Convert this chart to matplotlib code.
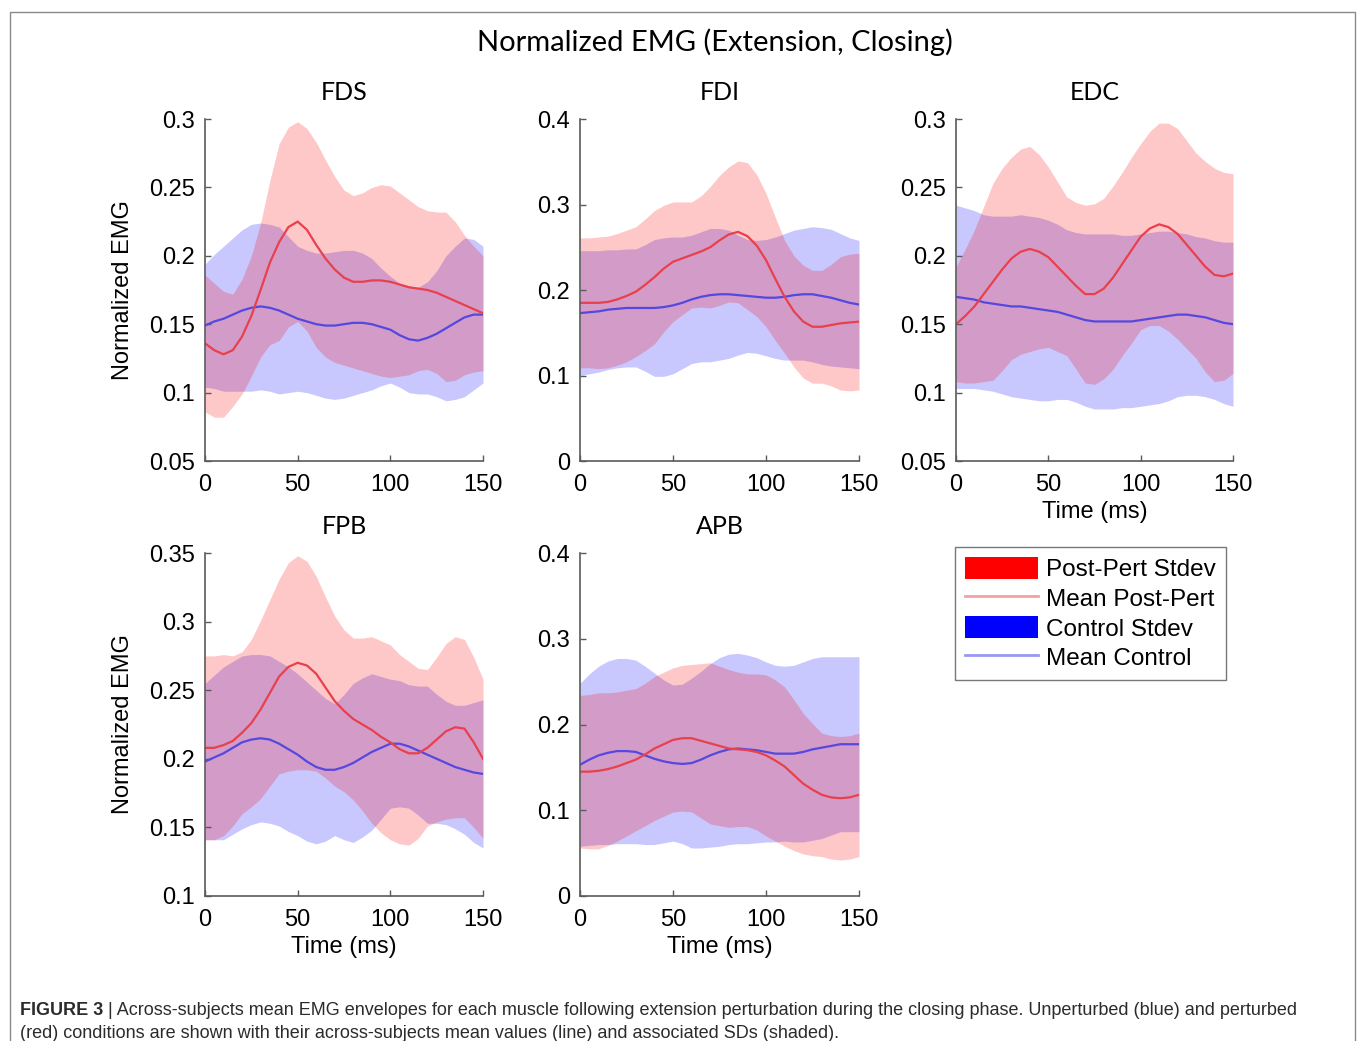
import numpy as np
import matplotlib
matplotlib.use("Agg")
import matplotlib.pyplot as plt
from matplotlib.patches import Patch, Rectangle
from matplotlib.lines import Line2D

# ---------------- data ----------------
time_ms = [0, 5, 10, 15, 20, 25, 30, 35, 40, 45, 50, 55, 60, 65, 70, 75,
           80, 85, 90, 95, 100, 105, 110, 115, 120, 125, 130, 135, 140, 145, 150]

muscles = ["FDS", "FDI", "EDC", "FPB", "APB"]

fds_pert_mean = [.136, .131, .128, .131, .141, .156, .175, .195, .210, .221, .225, .219, .208, .198, .190, .184,
                 .181, .181, .182, .182, .181, .179, .177, .176, .175, .173, .170, .167, .164, .161, .158]
fds_pert_sd   = [.050, .049, .046, .041, .042, .044, .049, .060, .072, .073, .073, .074, .075, .072, .068, .064,
                 .063, .065, .068, .070, .070, .067, .064, .060, .058, .059, .062, .058, .051, .046, .042]
fds_ctrl_mean = [.149, .152, .154, .157, .160, .162, .163, .162, .160, .157, .154, .152, .150, .149, .149, .150,
                 .151, .151, .150, .148, .146, .142, .139, .138, .140, .143, .147, .151, .155, .157, .157]
fds_ctrl_sd   = [.045, .049, .053, .056, .059, .061, .061, .061, .061, .057, .053, .052, .052, .053, .054, .054,
                 .053, .051, .048, .043, .039, .038, .039, .039, .041, .046, .053, .056, .058, .055, .050]

fdi_pert_mean = [.185, .185, .185, .186, .189, .193, .198, .206, .215, .225, .233, .237, .241, .245, .250, .258,
                 .265, .268, .263, .252, .235, .213, .192, .175, .163, .157, .157, .159, .161, .162, .163]
fdi_pert_sd   = [.076, .076, .077, .077, .077, .077, .076, .077, .078, .074, .070, .066, .062, .065, .071, .076,
                 .079, .083, .086, .083, .078, .072, .066, .065, .066, .066, .066, .071, .078, .080, .080]
fdi_ctrl_mean = [.173, .174, .175, .177, .178, .179, .179, .179, .179, .180, .182, .185, .189, .192, .194, .195,
                 .195, .194, .193, .192, .191, .191, .192, .194, .195, .195, .193, .191, .188, .185, .183]
fdi_ctrl_sd   = [.073, .072, .071, .070, .069, .069, .069, .074, .080, .081, .080, .077, .075, .076, .078, .077,
                 .075, .070, .066, .066, .068, .071, .074, .076, .077, .079, .080, .080, .078, .076, .075]

edc_pert_mean = [.150, .156, .163, .172, .181, .190, .198, .203, .205, .203, .199, .192, .185, .178, .172, .172,
                 .176, .184, .194, .204, .214, .220, .223, .221, .216, .208, .200, .192, .186, .185, .187]
edc_pert_sd   = [.042, .049, .056, .064, .072, .074, .074, .075, .075, .071, .066, .062, .058, .061, .065, .066,
                 .066, .067, .067, .068, .068, .071, .074, .076, .077, .076, .075, .077, .078, .076, .073]
edc_ctrl_mean = [.170, .169, .168, .166, .165, .164, .163, .163, .162, .161, .160, .159, .157, .155, .153, .152,
                 .152, .152, .152, .152, .153, .154, .155, .156, .157, .157, .156, .155, .153, .151, .150]
edc_ctrl_sd   = [.067, .066, .065, .064, .064, .065, .066, .067, .067, .067, .066, .064, .062, .062, .063, .064,
                 .064, .064, .063, .063, .063, .063, .063, .062, .060, .059, .058, .058, .058, .059, .060]

fpb_pert_mean = [.208, .208, .210, .213, .219, .226, .236, .248, .260, .267, .270, .268, .262, .252, .242, .235,
                 .229, .225, .221, .216, .212, .207, .204, .204, .208, .214, .220, .223, .222, .212, .200]
fpb_pert_sd   = [.067, .067, .066, .062, .059, .061, .065, .068, .071, .076, .078, .076, .071, .066, .062, .059,
                 .059, .063, .068, .070, .071, .069, .067, .062, .057, .060, .064, .066, .065, .062, .058]
fpb_ctrl_mean = [.198, .201, .204, .208, .212, .214, .215, .214, .211, .207, .203, .198, .194, .192, .192, .194,
                 .197, .201, .205, .208, .211, .211, .209, .206, .203, .200, .197, .194, .192, .190, .189]
fpb_ctrl_sd   = [.057, .060, .063, .063, .063, .062, .061, .061, .060, .060, .059, .058, .056, .052, .048, .053,
                 .058, .058, .057, .052, .047, .046, .045, .047, .050, .047, .045, .045, .047, .051, .054]

apb_pert_mean = [.145, .145, .146, .148, .151, .155, .159, .165, .172, .177, .182, .184, .184, .181, .178, .175,
                 .172, .171, .170, .168, .164, .158, .151, .141, .131, .124, .118, .115, .114, .115, .118]
apb_pert_sd   = [.089, .090, .091, .089, .087, .085, .083, .083, .084, .084, .084, .085, .086, .090, .094, .093,
                 .092, .090, .089, .091, .094, .094, .093, .088, .082, .077, .072, .072, .072, .072, .072]
apb_ctrl_mean = [.153, .159, .164, .167, .169, .169, .168, .164, .160, .157, .155, .154, .155, .159, .164, .168,
                 .171, .172, .171, .170, .168, .166, .166, .166, .168, .171, .173, .175, .177, .177, .177]
apb_ctrl_sd   = [.095, .100, .104, .107, .108, .108, .107, .104, .100, .095, .091, .093, .099, .103, .107, .110,
                 .111, .111, .110, .108, .105, .103, .102, .103, .105, .106, .106, .104, .102, .102, .102]

ylims = {"FDS": (0.05, 0.3), "FDI": (0, 0.4), "EDC": (0.05, 0.3), "FPB": (0.1, 0.35), "APB": (0, 0.4)}
yticks = {
    "FDS": [0.05, 0.1, 0.15, 0.2, 0.25, 0.3],
    "FDI": [0, 0.1, 0.2, 0.3, 0.4],
    "EDC": [0.05, 0.1, 0.15, 0.2, 0.25, 0.3],
    "FPB": [0.1, 0.15, 0.2, 0.25, 0.3, 0.35],
    "APB": [0, 0.1, 0.2, 0.3, 0.4],
}
ytick_labels = {
    "FDS": ["0.05", "0.1", "0.15", "0.2", "0.25", "0.3"],
    "FDI": ["0", "0.1", "0.2", "0.3", "0.4"],
    "EDC": ["0.05", "0.1", "0.15", "0.2", "0.25", "0.3"],
    "FPB": ["0.1", "0.15", "0.2", "0.25", "0.3", "0.35"],
    "APB": ["0", "0.1", "0.2", "0.3", "0.4"],
}
xticks = [0, 50, 100, 150]
xtick_labels = ["0", "50", "100", "150"]

series = {
    "FDS": (fds_pert_mean, fds_pert_sd, fds_ctrl_mean, fds_ctrl_sd),
    "FDI": (fdi_pert_mean, fdi_pert_sd, fdi_ctrl_mean, fdi_ctrl_sd),
    "EDC": (edc_pert_mean, edc_pert_sd, edc_ctrl_mean, edc_ctrl_sd),
    "FPB": (fpb_pert_mean, fpb_pert_sd, fpb_ctrl_mean, fpb_ctrl_sd),
    "APB": (apb_pert_mean, apb_pert_sd, apb_ctrl_mean, apb_ctrl_sd),
}

legend_labels = ["Post-Pert Stdev", "Mean Post-Pert", "Control Stdev", "Mean Control"]

title_text = "Normalized EMG (Extension, Closing)"
caption_bold = "FIGURE 3"
caption_line1 = " | Across-subjects mean EMG envelopes for each muscle following extension perturbation during the closing phase. Unperturbed (blue) and perturbed"
caption_line2 = "(red) conditions are shown with their across-subjects mean values (line) and associated SDs (shaded)."

# ---------------- layout ----------------
W, H = 1358, 1041
fig = plt.figure(figsize=(W / 100, H / 100), dpi=100)
plt.rcParams["font.family"] = ["Liberation Sans", "DejaVu Sans"]

# pixel boxes: left, right, top, bottom
boxes = {
    "FDS": (205, 483, 119, 461),
    "FDI": (580, 859, 119, 461),
    "EDC": (956, 1233, 119, 461),
    "FPB": (205, 483, 553, 896),
    "APB": (580, 859, 553, 896),
}
ylabel_on = {"FDS", "FPB"}
xlabel_on = {"EDC", "FPB", "APB"}

RED_FILL = (1.0, 0.0, 0.0)
BLUE_FILL = (0.0, 0.0, 1.0)
ALPHA = 0.216
RED_LINE = "#E8404C"
BLUE_LINE = "#5548DE"
SPINE = "#5a5a5a"
TFONT = ["Lato", "DejaVu Sans"]

t = np.array(time_ms)
for name in muscles:
    l, r, tp, b = boxes[name]
    ax = fig.add_axes([l / W, 1 - b / H, (r - l) / W, (b - tp) / H])
    pm, psd, cm, csd = (np.array(v) for v in series[name])
    ax.fill_between(t, cm - csd, cm + csd, color=BLUE_FILL, alpha=ALPHA, lw=0)
    ax.fill_between(t, pm - psd, pm + psd, color=RED_FILL, alpha=ALPHA, lw=0)
    ax.plot(t, cm, color=BLUE_LINE, lw=1.6)
    ax.plot(t, pm, color=RED_LINE, lw=1.6)
    ax.set_xlim(0, 150)
    ax.set_ylim(*ylims[name])
    ax.set_xticks(xticks, labels=xtick_labels)
    ax.set_yticks(yticks[name], labels=ytick_labels[name])
    for s in ("top", "right"):
        ax.spines[s].set_visible(False)
    for s in ("left", "bottom"):
        ax.spines[s].set_color(SPINE)
        ax.spines[s].set_linewidth(1.2)
    ax.tick_params(direction="in", length=4, width=1, color=SPINE, labelsize=17,
                   labelcolor="black")
    ax.tick_params(axis="x", pad=9)
    ax.tick_params(axis="y", pad=7)
    ax.set_title(name, fontsize=18, family=TFONT, pad=14)
    if name in ylabel_on:
        ax.set_ylabel("Normalized EMG", fontsize=17)
        ax.yaxis.set_label_coords(-0.255, 0.5)
    if name in xlabel_on:
        ax.set_xlabel("Time (ms)", fontsize=17, va="top")
        ax.xaxis.set_label_coords(0.5, -0.118)
    ax.patch.set_alpha(0)

fig.text(715 / W, 1 - 42 / H, title_text, fontsize=21, family=TFONT,
         ha="center", va="center")

handles = [
    Patch(facecolor="#FF0000", edgecolor="none"),
    Line2D([], [], color="#F4A0A6", lw=2),
    Patch(facecolor="#0000FF", edgecolor="none"),
    Line2D([], [], color="#9A96F2", lw=2),
]
leg = fig.legend(handles, legend_labels, loc="upper left",
                 bbox_to_anchor=(955 / W, 1 - 547 / H), fontsize=17.5,
                 frameon=True, fancybox=False, edgecolor="#555555",
                 handlelength=3.0, handleheight=1.0, handletextpad=0.32,
                 labelspacing=0.22, borderpad=0.42, borderaxespad=0.0)
leg.get_frame().set_linewidth(1.0)

# border
fig.patches.append(Rectangle((10 / W, -0.02), 1345 / W, 1 - 12 / H + 0.02,
                             transform=fig.transFigure, fill=False,
                             edgecolor="#8a8a8a", lw=1.0))

cap_font = ["Liberation Sans Narrow", "Liberation Sans", "DejaVu Sans"]
cap_color = "#2b2b2b"
cb = fig.text(20 / W, 1 - 1015 / H, caption_bold, fontsize=13, family=cap_font,
              weight="bold", color=cap_color, ha="left", va="baseline")
fig.canvas.draw()
bb = cb.get_window_extent()
fig.text(bb.x1 / W, 1 - 1015 / H, caption_line1, fontsize=13, family=cap_font,
         color=cap_color, ha="left", va="baseline")
fig.text(20 / W, 1 - 1038 / H, caption_line2, fontsize=13, family=cap_font,
         color=cap_color, ha="left", va="baseline")

fig.savefig("out.png", dpi=100)
